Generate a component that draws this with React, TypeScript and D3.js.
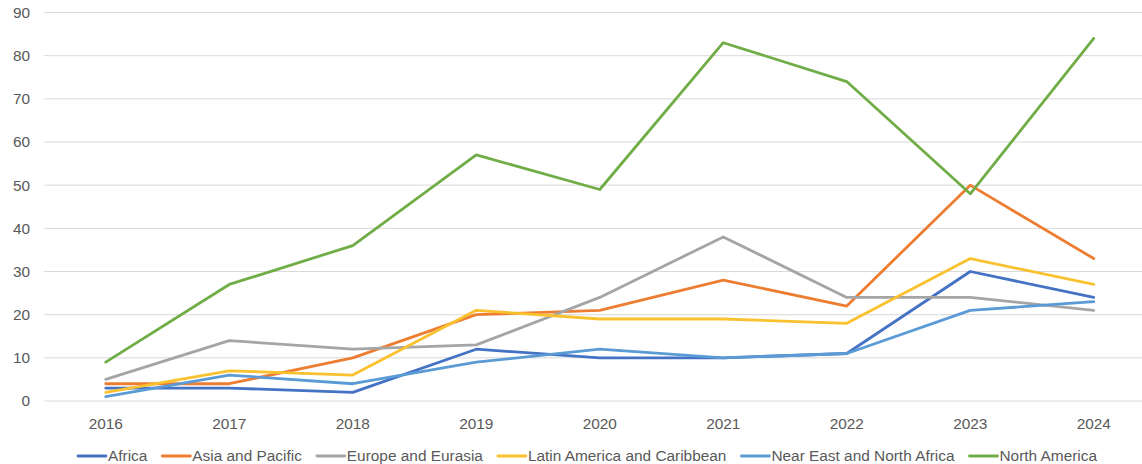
import React, { useEffect, useRef } from 'react';
import * as d3 from 'd3';

// Data
const years = ['2016', '2017', '2018', '2019', '2020', '2021', '2022', '2023', '2024'];
const africa = [3, 3, 2, 12, 10, 10, 11, 30, 24];
const asiaPacific = [4, 4, 10, 20, 21, 28, 22, 50, 33];
const europeEurasia = [5, 14, 12, 13, 24, 38, 24, 24, 21];
const latinAmerica = [2, 7, 6, 21, 19, 19, 18, 33, 27];
const nearEast = [1, 6, 4, 9, 12, 10, 11, 21, 23];
const northAmerica = [9, 27, 36, 57, 49, 83, 74, 48, 84];
const yTicks = [0, 10, 20, 30, 40, 50, 60, 70, 80, 90];

const seriesNames = [
  'Africa',
  'Asia and Pacific',
  'Europe and Eurasia',
  'Latin America and Caribbean',
  'Near East and North Africa',
  'North America',
];
const seriesValues = [africa, asiaPacific, europeEurasia, latinAmerica, nearEast, northAmerica];
const seriesColors = ['#4472C4', '#ED7D31', '#A5A5A5', '#F9C12E', '#5B9BD5', '#70AD47'];

const W = 1142;
const H = 464;

const App: React.FC = () => {
  const svgRef = useRef<SVGSVGElement>(null);

  useEffect(() => {
    if (!svgRef.current) return;
    const svg = d3.select(svgRef.current);
    svg.selectAll('*').remove();

    const font = '"Liberation Sans", Arial, sans-serif';
    const fontSize = '15.4px';
    const textColor = '#595959';

    const x = d3.scaleBand<string>().domain(years).range([44, 1155.5]).paddingInner(0);
    const cx = (yr: string) => (x(yr) ?? 0) + x.bandwidth() / 2;
    const y = d3.scaleLinear().domain([0, 90]).range([401, 12.5]);

    // Gridlines
    svg.append('g')
      .selectAll('line')
      .data(yTicks)
      .enter().append('line')
      .attr('x1', 44)
      .attr('x2', W)
      .attr('y1', d => y(d))
      .attr('y2', d => y(d))
      .style('stroke', '#D9D9D9')
      .style('stroke-width', 1);

    // Y tick labels
    svg.append('g')
      .selectAll('text')
      .data(yTicks)
      .enter().append('text')
      .attr('x', 30)
      .attr('y', d => y(d))
      .attr('dy', '0.35em')
      .attr('text-anchor', 'end')
      .style('font-family', font)
      .style('font-size', fontSize)
      .style('fill', textColor)
      .text(d => String(d));

    // X tick labels
    svg.append('g')
      .selectAll('text')
      .data(years)
      .enter().append('text')
      .attr('x', d => cx(d))
      .attr('y', 429)
      .attr('text-anchor', 'middle')
      .style('font-family', font)
      .style('font-size', fontSize)
      .style('fill', textColor)
      .text(d => d);

    // Series lines
    const line = d3.line<number>()
      .x((_, i) => cx(years[i]))
      .y(d => y(d));

    svg.append('g')
      .selectAll('path')
      .data(seriesValues)
      .enter().append('path')
      .attr('d', d => line(d))
      .style('fill', 'none')
      .style('stroke', (_, i) => seriesColors[i])
      .style('stroke-width', 2.8)
      .style('stroke-linejoin', 'round')
      .style('stroke-linecap', 'round');

    // Legend
    const legend = svg.append('g');
    let lx = 78;
    seriesNames.forEach((name, i) => {
      legend.append('line')
        .attr('x1', lx)
        .attr('x2', lx + 28)
        .attr('y1', 456)
        .attr('y2', 456)
        .style('stroke', seriesColors[i])
        .style('stroke-width', 2.8)
        .style('stroke-linecap', 'round');
      const t = legend.append('text')
        .attr('x', lx + 30)
        .attr('y', 461)
        .style('font-family', font)
        .style('font-size', fontSize)
        .style('fill', textColor)
        .text(name);
      const w = (t.node() as SVGTextElement).getComputedTextLength();
      lx += 30 + w + 15;
    });
  }, []);

  return (
    <svg
      ref={svgRef}
      width={W}
      height={H}
      style={{ position: 'absolute', left: 0, top: 0, background: '#fff' }}
    />
  );
};

export default App;
